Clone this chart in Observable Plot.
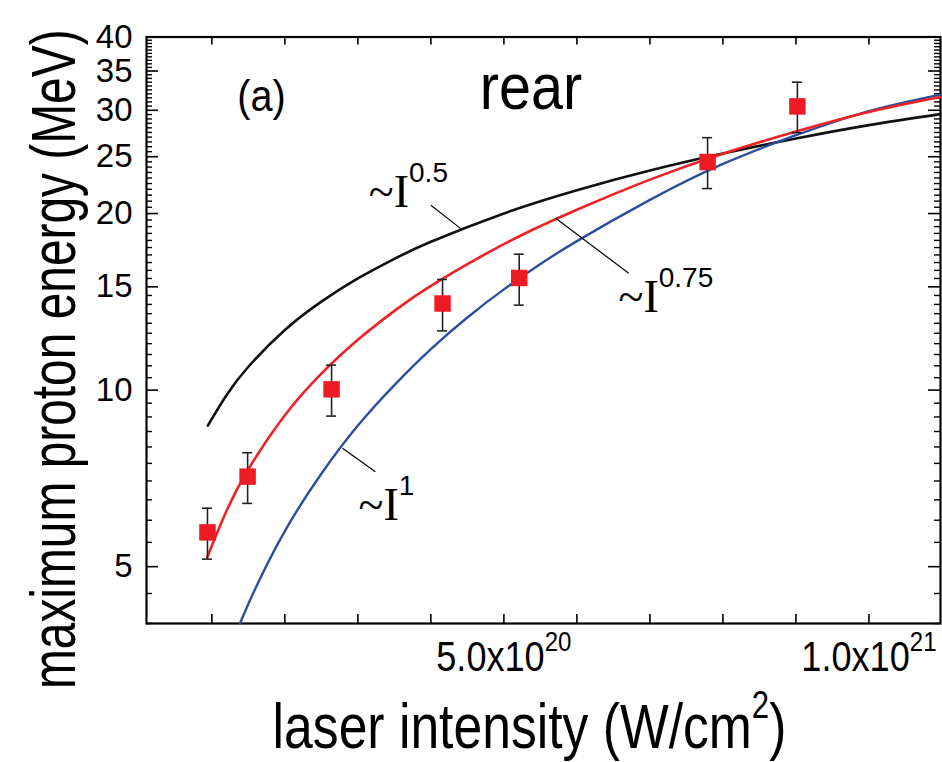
<!DOCTYPE html>
<html>
<head>
<meta charset="utf-8">
<script src="https://cdn.jsdelivr.net/npm/d3@7"></script>
<script src="https://cdn.jsdelivr.net/npm/@observablehq/plot@0.6"></script>
<style>
  body { margin: 0; background: #fff; }
  svg { display: block; }
</style>
</head>
<body>
<div id="chart"></div>
<script>
// ---- measured points (laser intensity in W/cm^2, max proton energy in MeV) ----
const intensity = [0.94e20, 1.49e20, 2.64e20, 4.16e20, 5.21e20, 7.79e20, 9.02e20];
const energy    = [5.72, 7.12, 10.03, 14.05, 15.53, 24.48, 30.46];
const errLow    = [5.15, 6.41, 9.03, 12.62, 13.96, 22.06, 27.47];
const errHigh   = [6.29, 7.82, 11.03, 15.44, 17.05, 26.94, 33.5];

// ---- scaling curves ----
const curveHalfI = [0.945e20, 1.2e20, 1.5e20, 2.0e20, 2.5e20, 3.0e20, 3.5e20, 4.0e20, 5.0e20, 6.0e20, 7.0e20, 8.0e20, 9.0e20, 10.0e20, 10.98e20];
const curveHalfE = [8.70, 9.80, 10.96, 12.66, 14.15, 15.50, 16.74, 17.90, 20.01, 21.92, 23.68, 25.31, 26.85, 28.30, 29.55];

const curve075I = [0.937e20, 1.2e20, 1.5e20, 2.0e20, 2.5e20, 3.0e20, 3.5e20, 4.0e20, 5.0e20, 6.0e20, 7.0e20, 8.0e20, 9.0e20, 10.0e20, 10.98e20];
const curve075E = [5.19, 6.22, 7.33, 9.06, 10.67, 12.19, 13.65, 15.06, 17.74, 20.3, 22.85, 25.3, 27.6, 29.8, 31.6];

const curveOneI = [1.385e20, 1.6e20, 2.0e20, 2.5e20, 3.0e20, 3.5e20, 4.0e20, 4.5e20, 5.0e20, 5.5e20, 6.0e20, 7.0e20, 8.0e20, 9.0e20, 10.0e20, 10.98e20];
const curveOneE = [4.0, 4.6, 5.75, 7.2, 8.7, 10.2, 11.75, 13.3, 14.85, 16.4, 17.95, 21.1, 24.3, 27.2, 29.9, 31.9];

// ---- annotations (data coordinates) ----
const fitLabels = ["~I^0.5", "~I^0.75", "~I^1"];
const fitLabelX = [3.15e20, 6.57e20, 3.01e20];
const fitLabelY = [20.5, 13.58, 6.0];
const leaderX1 = [4.0e20, 5.71e20, 2.79e20];
const leaderY1 = [20.66, 19.63, 7.96];
const leaderX2 = [4.41e20, 6.71e20, 3.24e20];
const leaderY2 = [18.85, 15.82, 7.26];

// ---- axes ----
const xTickValues = [1e20, 2e20, 3e20, 4e20, 5e20, 6e20, 7e20, 8e20, 9e20, 10e20];
const xLabelValues = [5e20, 1e21];
const xLabelText = ["5.0x10^20", "1.0x10^21"];
const yMajor = [5, 10, 15, 20, 25, 30, 35, 40];
const yLabelText = ["5", "10", "15", "20", "25", "30", "35", "40"];
const yMinor = d3.range(4, 40.001, 0.5).filter(v => !yMajor.includes(v));

const xTitle = "laser intensity (W/cm^2^)";
const yTitle = "maximum proton energy (MeV)";

// ---- layout ----
const W = 942, H = 762, mL = 146, mR = 2, mT = 36.5, mB = 139;
const innerW = W - mL - mR, innerH = H - mT - mB;

const SVGNS = "http://www.w3.org/2000/svg";
// render hook: "^" toggles superscript; optional horizontal squeeze
function rich({supSize = "0.6em", supShift = -10, supFamily = null, squeeze = 1} = {}) {
  return (index, scales, values, dims, context, next) => {
    const g = next(index, scales, values, dims, context);
    g.querySelectorAll("text").forEach(t => {
      const parts = t.textContent.split("^");
      if (parts.length > 1) {
        t.textContent = "";
        let cur = 0;
        parts.forEach((p, i) => {
          const target = i % 2 ? supShift : 0;
          if (!p) return;
          const s = document.createElementNS(SVGNS, "tspan");
          s.textContent = p;
          if (target !== cur) s.setAttribute("dy", target - cur);
          cur = target;
          if (i % 2) {
            s.setAttribute("font-size", supSize);
            if (supFamily) s.setAttribute("font-family", supFamily);
          }
          t.appendChild(s);
        });
      }
      if (squeeze !== 1) t.setAttribute("transform", `${t.getAttribute("transform") || ""} scale(${squeeze},1)`);
    });
    return g;
  };
}

const idx = d3.range(intensity.length);
const mk = (xs, ys) => xs.map((x, i) => ({x, y: ys[i]}));
const li = d3.range(fitLabels.length);

const chart = Plot.plot({
  width: W, height: H,
  marginLeft: mL, marginRight: mR, marginTop: mT, marginBottom: mB,
  style: {fontFamily: "'Liberation Sans', Arial, sans-serif", background: "#fff", color: "#000"},
  x: {domain: [0.105e20, 10.98e20], axis: null},
  y: {type: "log", domain: [4, 40], axis: null},
  marks: [
    // ticks (inward)
    Plot.ruleX(xTickValues, {x: d => d, insetTop: innerH - 9, stroke: "#000", strokeWidth: 1.6}),
    Plot.ruleX(xTickValues, {x: d => d, insetBottom: innerH - 8, stroke: "#000", strokeWidth: 1.6}),
    Plot.ruleY(yMinor, {y: d => d, insetRight: innerW - 6, stroke: "#000", strokeWidth: 1.4}),
    Plot.ruleY(yMajor, {y: d => d, insetRight: innerW - 12, stroke: "#000", strokeWidth: 1.6}),
    Plot.ruleY(yMinor, {y: d => d, insetLeft: innerW - 6, stroke: "#000", strokeWidth: 1.4}),
    Plot.ruleY(yMajor, {y: d => d, insetLeft: innerW - 12, stroke: "#000", strokeWidth: 1.6}),
    Plot.frame({stroke: "#000", strokeWidth: 2.2}),

    // tick labels
    Plot.text(yMajor, {y: d => d, text: (d, i) => yLabelText[i], frameAnchor: "left", dx: -14, textAnchor: "end", fontSize: 33}),
    Plot.text(xLabelValues, {x: d => d, text: (d, i) => xLabelText[i], frameAnchor: "bottom", dy: 47, lineAnchor: "bottom", textAnchor: "middle", fontSize: 42,
      render: rich({supSize: "28px", supShift: -20, squeeze: 0.86})}),

    // axis titles
    Plot.text([xTitle], {text: d => d, frameAnchor: "bottom", dx: -14, dy: 124, lineAnchor: "bottom", textAnchor: "middle", fontSize: 63,
      render: rich({supSize: "38px", supShift: -30, squeeze: 0.82})}),
    Plot.text([yTitle], {text: d => d, frameAnchor: "left", dx: -72, dy: 29, rotate: -90, lineAnchor: "bottom", textAnchor: "middle", fontSize: 63,
      render: rich({squeeze: 0.76})}),

    // fit curves
    Plot.line(mk(curveHalfI, curveHalfE), {x: "x", y: "y", stroke: "#111", strokeWidth: 2.6, curve: "natural"}),
    Plot.line(mk(curveOneI, curveOneE), {x: "x", y: "y", stroke: "#2d4e9e", strokeWidth: 2.4, curve: "natural"}),
    Plot.line(mk(curve075I, curve075E), {x: "x", y: "y", stroke: "#ee2124", strokeWidth: 2.6, curve: "natural"}),

    // leader lines and fit labels
    Plot.link(li, {x1: i => leaderX1[i], y1: i => leaderY1[i], x2: i => leaderX2[i], y2: i => leaderY2[i], stroke: "#000", strokeWidth: 1.2}),
    Plot.text(li, {x: i => fitLabelX[i], y: i => fitLabelY[i], text: i => fitLabels[i], textAnchor: "start", lineAnchor: "bottom",
      fontFamily: "'Liberation Serif', 'Times New Roman', serif", fontSize: 46,
      render: rich({supSize: "28px", supShift: -25, supFamily: "'Liberation Sans', Arial, sans-serif"})}),

    // error bars
    Plot.ruleX(idx, {x: i => intensity[i], y1: i => errLow[i], y2: i => errHigh[i], stroke: "#222", strokeWidth: 1.6}),
    Plot.ruleY(idx, {y: i => errHigh[i], x1: i => intensity[i], x2: i => intensity[i], insetLeft: -5, insetRight: -5, stroke: "#222", strokeWidth: 1.6}),
    Plot.ruleY(idx, {y: i => errLow[i], x1: i => intensity[i], x2: i => intensity[i], insetLeft: -5, insetRight: -5, stroke: "#222", strokeWidth: 1.6}),
    // data squares
    Plot.dot(idx, {x: i => intensity[i], y: i => energy[i], symbol: "square", r: 9.3, fill: "#ed1c24", stroke: null}),

    // panel labels
    Plot.text(["(a)"], {x: 1.348e20, y: 29.9, text: d => d, textAnchor: "start", lineAnchor: "bottom", fontSize: 44, render: rich({squeeze: 0.9})}),
    Plot.text(["rear"], {x: 5.37e20, y: 30.2, text: d => d, textAnchor: "middle", lineAnchor: "bottom", fontSize: 64, render: rich({squeeze: 0.9})})
  ]
});
document.getElementById("chart").appendChild(chart);
</script>
</body>
</html>
